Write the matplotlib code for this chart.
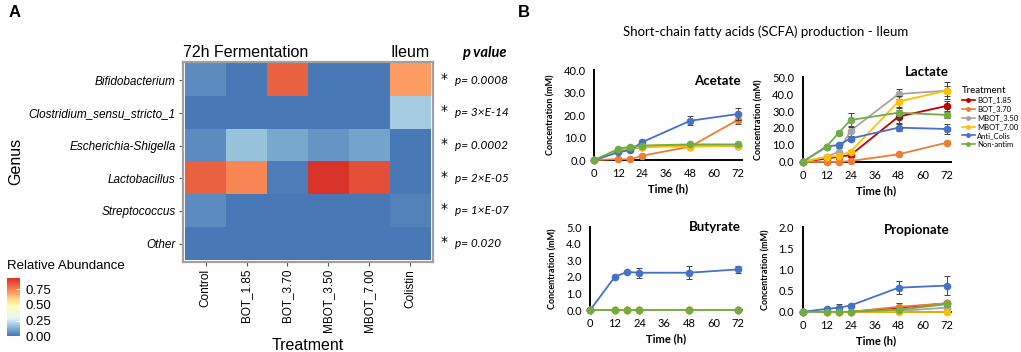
import numpy as np
import matplotlib
matplotlib.use('Agg')
import matplotlib.pyplot as plt
from matplotlib.colors import LinearSegmentedColormap

# ---- panel A data
genus = ['Bifidobacterium', 'Clostridium_sensu_stricto_1', 'Escherichia-Shigella',
         'Lactobacillus', 'Streptococcus', 'Other']
treat = ['Control', 'BOT_1.85', 'BOT_3.70', 'MBOT_3.50', 'MBOT_7.00', 'Colistin']
abund = [[0.05, 0.01, 0.82, 0.01, 0.01, 0.70],
         [0.01, 0.01, 0.01, 0.01, 0.01, 0.19],
         [0.05, 0.17, 0.11, 0.07, 0.10, 0.01],
         [0.82, 0.74, 0.02, 0.92, 0.86, 0.01],
         [0.05, 0.01, 0.01, 0.01, 0.01, 0.03],
         [0.01, 0.01, 0.01, 0.01, 0.01, 0.01]]
pvals = ['p= 0.0008', 'p= 3×E-14', 'p= 0.0002', 'p= 2×E-05', 'p= 1×E-07', 'p= 0.020']

# ---- panel B data
time = [0, 12, 18, 24, 48, 72]
groups = ['BOT_1.85', 'BOT_3.70', 'MBOT_3.50', 'MBOT_7.00', 'Anti_Colis', 'Non-antim']
colors = ['#C00000', '#ED7D31', '#A5A5A5', '#FFC000', '#4472C4', '#70AD47']

acetate = [[0, 4.0, 5.0, 6.0, 6.5, 6.5],
           [0, 0.5, 0.3, 2.0, 6.0, 18.0],
           [0, 4.0, 5.0, 6.0, 6.5, 6.5],
           [0, 4.5, 5.5, 6.0, 6.0, 6.5],
           [0, 3.5, 4.5, 8.0, 17.5, 20.5],
           [0, 5.0, 6.0, 6.5, 7.0, 7.0]]
acetate_err = [[0, 0.3, 0.3, 0.3, 0.3, 0.3],
               [0, 0.2, 0.2, 0.3, 0.5, 2.0],
               [0, 0.3, 0.3, 0.3, 0.3, 0.3],
               [0, 0.3, 0.3, 0.3, 0.3, 0.3],
               [0, 0.5, 0.5, 1.0, 2.0, 2.5],
               [0, 0.3, 0.3, 0.3, 0.3, 0.3]]

lactate = [[0, 2.0, 3.0, 4.0, 26.7, 33.0],
           [0, 0.0, 0.0, 0.5, 4.5, 11.3],
           [0, 3.0, 6.0, 18.4, 40.0, 42.0],
           [0, 3.0, 3.5, 6.0, 35.6, 42.0],
           [0, 9.0, 10.0, 13.8, 20.2, 19.4],
           [0, 9.0, 17.0, 24.7, 29.0, 27.7]]
lactate_err = [[0, 0.5, 0.5, 1.0, 4.0, 3.0],
               [0, 0.2, 0.2, 0.2, 0.5, 1.0],
               [0, 0.5, 2.0, 3.0, 3.0, 3.0],
               [0, 0.5, 0.5, 1.0, 3.0, 5.0],
               [0, 1.0, 1.0, 1.5, 2.0, 3.0],
               [0, 1.0, 1.0, 4.0, 3.0, 2.0]]

butyrate = [[0, 0, 0, 0, 0, 0],
            [0, 0, 0, 0, 0, 0],
            [0, 0, 0, 0, 0, 0],
            [0, 0, 0, 0, 0, 0],
            [0, 2.0, 2.3, 2.25, 2.25, 2.45],
            [0, 0, 0, 0, 0, 0]]
butyrate_err = [[0] * 6, [0] * 6, [0] * 6, [0] * 6,
                [0, 0.05, 0.08, 0.3, 0.4, 0.2], [0] * 6]

propionate = [[0, 0, 0, 0, 0.10, 0.20],
              [0, 0, 0, 0, 0.12, 0.20],
              [0, 0, 0, 0, 0.02, 0.10],
              [0, 0, 0, 0, 0.0, 0.0],
              [0, 0.07, 0.10, 0.15, 0.57, 0.62],
              [0, 0, 0, 0, 0.05, 0.18]]
propionate_err = [[0, 0, 0, 0, 0.05, 0.05],
                  [0, 0, 0, 0, 0.10, 0.05],
                  [0, 0, 0, 0, 0.02, 0.05],
                  [0, 0, 0, 0, 0.0, 0.0],
                  [0, 0.03, 0.08, 0.03, 0.15, 0.22],
                  [0, 0, 0, 0, 0.03, 0.03]]

fig = plt.figure(figsize=(10.21, 3.52), dpi=100)

# ================= panel A: heatmap
cmap = LinearSegmentedColormap.from_list(
    'ab', [(0, '#4575b4'), (0.17, '#91bfdb'), (0.3, '#e0f3f8'), (0.5, '#ffffbf'),
           (0.62, '#fee090'), (0.78, '#fc8d59'), (1, '#d73027')])
ax = fig.add_axes([0.179, 0.256, 0.245, 0.568])
data = np.array(abund)
im = ax.imshow(data, cmap=cmap, vmin=0, vmax=0.93, aspect='auto')
ax.set_xlim(-0.56, len(treat) - 0.44)
ax.set_ylim(len(genus) - 0.44, -0.56)
for s in ax.spines.values():
    s.set_color('#a0a0a0')
    s.set_linewidth(1.6)
ax.set_yticks(range(len(genus)))
ax.set_yticklabels(genus, fontstyle='italic', fontsize=8.5, family='Liberation Sans')
ax.set_xticks(range(len(treat)))
ax.set_xticklabels(treat, rotation=90, fontsize=8.5, family='Liberation Sans')
ax.tick_params(length=3, color='#555555', pad=2)
ax.set_ylabel('Genus', fontsize=11.5, family='Liberation Sans', labelpad=4)
ax.set_xlabel('Treatment', fontsize=11.5, family='Liberation Sans', labelpad=4)
ax.text(-0.56, -0.62, '72h Fermentation', fontsize=11.5, family='Liberation Sans',
        ha='left', va='bottom')
ax.text(5.0, -0.62, 'Ileum', fontsize=11.5, family='Liberation Sans', ha='center', va='bottom')
ax.text(6.28, -0.62, 'p value', fontsize=10.5, family='Lato', fontweight='bold',
        fontstyle='italic', ha='left', va='bottom')
for i, p in enumerate(pvals):
    ax.text(5.75, i - 0.05, '*', fontsize=10, ha='left', va='center', family='DejaVu Sans')
    ax.text(6.1, i, p, fontsize=8.5, fontstyle='italic', family='Lato',
            ha='left', va='center')

cax = fig.add_axes([0.007, 0.045, 0.013, 0.165])
cb = fig.colorbar(im, cax=cax, ticks=[0, 0.25, 0.5, 0.75])
cb.ax.set_yticklabels(['0.00', '0.25', '0.50', '0.75'], fontsize=9.5, family='Liberation Sans')
cb.outline.set_visible(False)
cb.ax.tick_params(length=3, color='white', direction='in', pad=4)
fig.text(0.007, 0.245, 'Relative Abundance', fontsize=9.5, family='Liberation Sans',
         ha='left', va='center')

fig.text(0.008, 0.965, 'A', fontsize=12, fontweight='bold', family='Liberation Sans',
         va='center')
fig.text(0.507, 0.965, 'B', fontsize=12, fontweight='bold', family='Liberation Sans',
         va='center')
fig.text(0.75, 0.91, 'Short-chain fatty acids (SCFA) production - Ileum', fontsize=9.5,
         family='Lato', ha='center', va='center')

# ================= panel B: line charts
def line_panel(rect, values, errs, ymax, ystep, name, name_y):
    a = fig.add_axes(rect)
    for k in range(len(groups)):
        a.errorbar(time, values[k], yerr=errs[k], color=colors[k], marker='o',
                   markersize=4.5, linewidth=1.3, ecolor='#404040', elinewidth=0.7,
                   capsize=2, capthick=0.7, clip_on=False, zorder=3 + k)
    a.set_xlim(0, 74)
    a.set_ylim(0, ymax)
    a.set_xticks([0, 12, 24, 36, 48, 60, 72])
    a.set_yticks(np.arange(0, ymax + ystep / 2, ystep))
    a.yaxis.set_major_formatter(matplotlib.ticker.FormatStrFormatter('%.1f'))
    a.tick_params(length=0, labelsize=8, pad=6)
    for lab in a.get_xticklabels() + a.get_yticklabels():
        lab.set_family('Lato')
    a.spines['top'].set_visible(False)
    a.spines['right'].set_visible(False)
    a.spines['left'].set_linewidth(1.4)
    a.spines['bottom'].set_linewidth(1.4)
    a.set_xlabel('Time (h)', fontsize=8, fontweight='bold', family='Lato', labelpad=3)
    a.set_ylabel('Concentration (mM)', fontsize=6.5, fontweight='bold', family='Lato',
                 labelpad=6)
    a.text(0.99, name_y, name, transform=a.transAxes, fontsize=9.5, fontweight='bold',
           family='Lato', ha='right', va='center')
    return a

line_panel([0.582, 0.545, 0.145, 0.256], acetate, acetate_err, 40, 10, 'Acetate', 0.88)
line_panel([0.786, 0.540, 0.145, 0.241], lactate, lactate_err, 50, 10, 'Lactate', 1.06)
line_panel([0.578, 0.119, 0.149, 0.236], butyrate, butyrate_err, 5, 1, 'Butyrate', 1.0)
line_panel([0.786, 0.114, 0.145, 0.241], propionate, propionate_err, 2, 0.5, 'Propionate', 0.96)

handles = [plt.Line2D([], [], color=c, marker='o', markersize=2.5, linewidth=1.2)
           for c in colors]
leg = fig.legend(handles, groups, loc='upper left', bbox_to_anchor=(0.938, 0.77),
                 frameon=False, fontsize=5.5, title='Treatment', title_fontsize=7,
                 handlelength=1.6, handletextpad=0.3, labelspacing=0.25,
                 borderpad=0.1, alignment='left', prop={'family': 'Lato', 'size': 5.5})
leg.get_title().set_family('Lato')

fig.savefig('out.png', dpi=100)
